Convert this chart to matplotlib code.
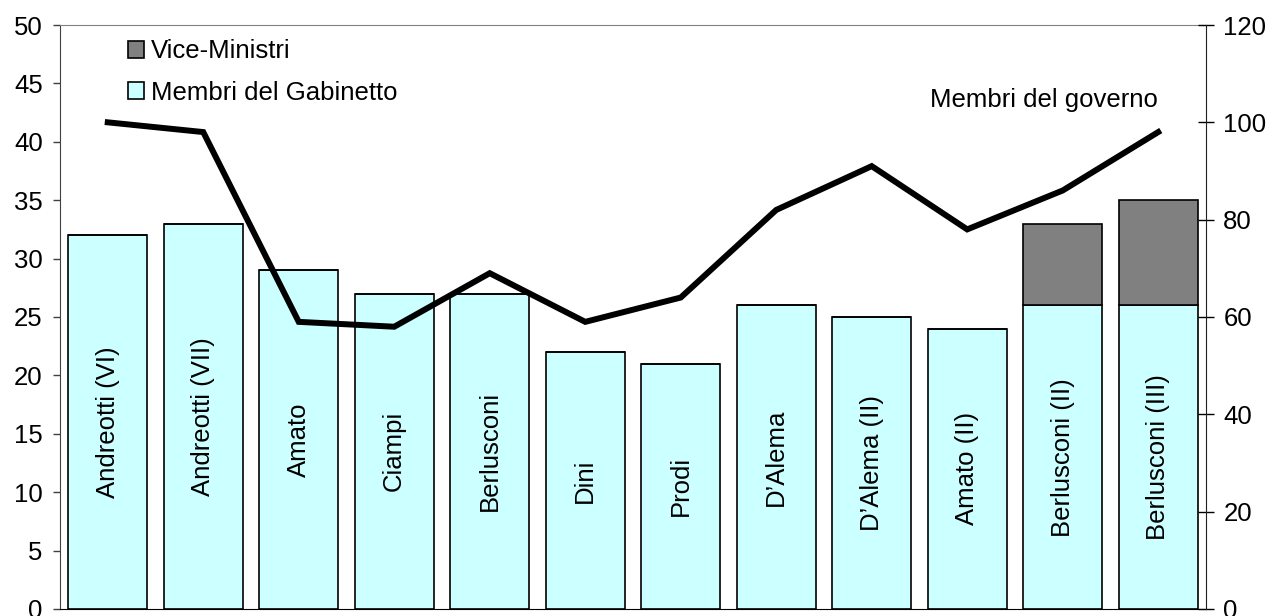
import numpy as np
import matplotlib
matplotlib.use("Agg")
from matplotlib import pyplot as plt

governi = ["Andreotti (VI)", "Andreotti (VII)", "Amato", "Ciampi", "Berlusconi",
           "Dini", "Prodi", "D\u2019Alema", "D\u2019Alema (II)", "Amato (II)",
           "Berlusconi (II)", "Berlusconi (III)"]
gabinetto = [32, 33, 29, 27, 27, 22, 21, 26, 25, 24, 26, 26]
vice_ministri = [0, 0, 0, 0, 0, 0, 0, 0, 0, 0, 7, 9]
membri_governo = [100, 98, 59, 58, 69, 59, 64, 82, 91, 78, 86, 98]

plt.rcParams['font.family'] = ['Liberation Sans', 'DejaVu Sans']
plt.rcParams['font.size'] = 18.5

fig = plt.figure(figsize=(12.74, 6.16), dpi=100)
ax = fig.add_axes([0.0471, 0.0114, 0.8995, 0.948])
x = np.arange(len(governi))

ax.bar(x, gabinetto, width=0.83, color='#CCFFFF', edgecolor='black', linewidth=1.2,
       label='Membri del Gabinetto', zorder=2)
ax.bar(x, vice_ministri, width=0.83, bottom=gabinetto, color='#808080', edgecolor='black',
       linewidth=1.2, label='Vice-Ministri', zorder=2)

for i in range(len(governi)):
    ax.text(x[i], gabinetto[i] / 2, governi[i], rotation=90, ha='center', va='center')

ax.set_xlim(-0.5, len(governi) - 0.5)
ax.set_ylim(0, 50)
ax.set_yticks(range(0, 51, 5))
ax.set_xticks([])
ax.tick_params(axis='y', direction='out', length=5, width=1, color='#404040', pad=7.5)
ax.spines['left'].set_color('#404040')
ax.spines['top'].set_color('#808080')
ax.spines['bottom'].set_color('black')
ax.spines['right'].set_visible(False)

h, l = ax.get_legend_handles_labels()
ax.legend(h[::-1], l[::-1], loc='upper left', bbox_to_anchor=(0.05, 0.993), frameon=False,
          handlelength=0.65, handleheight=0.65, handletextpad=0.25, labelspacing=0.68,
          borderaxespad=0)

ax2 = ax.twinx()
ax2.plot(x, membri_governo, color='black', linewidth=4.3, solid_joinstyle='miter', zorder=3)
ax2.set_ylim(0, 120)
ax2.set_yticks(range(0, 121, 20))
ax2.tick_params(axis='y', direction='inout', length=11, width=1, pad=7)
for s in ['left', 'top', 'bottom']:
    ax2.spines[s].set_visible(False)
ax2.spines['right'].set_color('#202020')
ax2.text(9.8, 104.6, 'Membri del governo', ha='center', va='center')

fig.savefig('out.png', dpi=100)
